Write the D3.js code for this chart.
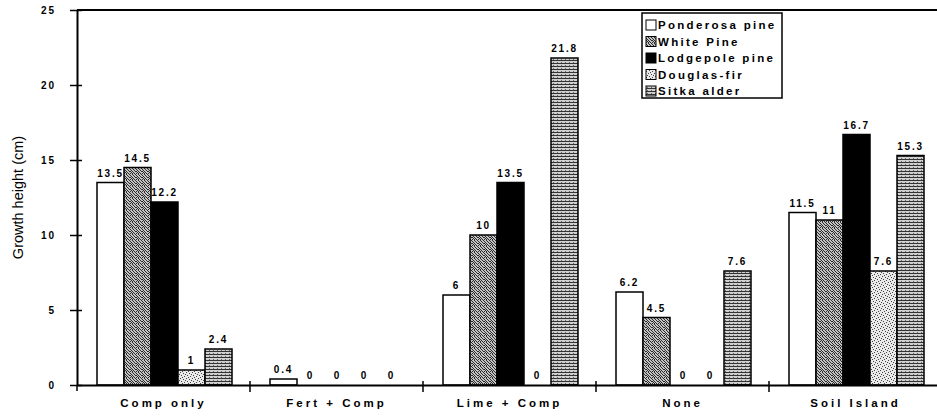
<!DOCTYPE html>
<html><head><meta charset="utf-8">
<script src="https://cdn.jsdelivr.net/npm/d3@7"></script>
<style>
body{margin:0;background:#fff;}
svg{display:block;font-family:"Liberation Sans",Arial,sans-serif;}
</style></head>
<body><div id="chart"></div>
<script>
const categories = ["Comp only","Fert + Comp","Lime + Comp","None","Soil Island"];
const seriesNames = ["Ponderosa pine","White Pine","Lodgepole pine","Douglas-fir","Sitka alder"];
const ponderosa = [13.5, 0.4, 6, 6.2, 11.5];
const whitePine = [14.5, 0, 10, 4.5, 11];
const lodgepole = [12.2, 0, 13.5, 0, 16.7];
const douglas = [1, 0, 0, 0, 7.6];
const sitka = [2.4, 0, 21.8, 7.6, 15.3];
const yTicks = [0,5,10,15,20,25];
const values = [ponderosa, whitePine, lodgepole, douglas, sitka];

const W = 937, H = 419;
const m = {left:77, top:10, right:-5, bottom:34};
const svg = d3.select("#chart").append("svg").attr("width",W).attr("height",H);
const defs = svg.append("defs");

// patterns
const p1 = defs.append("pattern").attr("id","pWhite").attr("width",6).attr("height",6).attr("patternUnits","userSpaceOnUse");
p1.append("rect").attr("width",6).attr("height",6).attr("fill","#c4c4c4");
[[0,0],[3,0],[1,1],[4,1],[5,2],[2,2],[0,3],[3,3],[1,4],[5,4],[2,5],[4,5],[4,3],[0,5]]
  .forEach(d=>p1.append("rect").attr("x",d[0]).attr("y",d[1]).attr("width",1).attr("height",1).attr("fill","#2a2a2a"));
const p2 = defs.append("pattern").attr("id","pDoug").attr("width",6).attr("height",6).attr("patternUnits","userSpaceOnUse");
p2.append("rect").attr("width",6).attr("height",6).attr("fill","#eaeaea");
[[0,0],[3,1],[1,3],[4,4],[5,2],[2,5]]
  .forEach(d=>p2.append("rect").attr("x",d[0]).attr("y",d[1]).attr("width",1).attr("height",1).attr("fill","#444"));
const p3 = defs.append("pattern").attr("id","pSitka").attr("width",4).attr("height",3).attr("patternUnits","userSpaceOnUse");
p3.append("rect").attr("width",4).attr("height",3).attr("fill","#d0d0d0");
p3.append("rect").attr("x",0).attr("y",0).attr("width",4).attr("height",1).attr("fill","#333");
p3.append("rect").attr("x",1).attr("y",2).attr("width",1).attr("height",1).attr("fill","#666");
const fills = ["#fff","url(#pWhite)","#000","url(#pDoug)","url(#pSitka)"];

const x0 = d3.scaleBand().domain(categories).range([m.left, W - m.right]).paddingInner(0).paddingOuter(0);
const x1 = d3.scaleBand().domain(d3.range(5)).range([20, x0.bandwidth()-18]).padding(0);
const y = d3.scaleLinear().domain([0,25]).range([H - m.bottom, m.top]);

// bars
categories.forEach((c,ci)=>{
  const g = svg.append("g");
  values.forEach((s,si)=>{
    const v = s[ci];
    const bx = x0(c)+x1(si);
    if (v>0) {
      g.append("rect").attr("x",bx).attr("y",y(v)).attr("width",x1.bandwidth()).attr("height",y(0)-y(v))
        .attr("fill",fills[si]).attr("stroke","#000").attr("stroke-width",1.5);
    }
    g.append("text").attr("x",bx+x1.bandwidth()/2).attr("y",y(v)-6).attr("text-anchor","middle")
      .attr("font-size",10).attr("font-weight","bold").attr("letter-spacing",1.8).text(v);
  });
});

// top border
svg.append("line").attr("x1",m.left).attr("x2",W).attr("y1",y(25)).attr("y2",y(25)).attr("stroke","#000").attr("stroke-width",2);

// y axis
const ya = svg.append("g").attr("transform",`translate(${m.left},0)`)
  .call(d3.axisLeft(y).tickValues(yTicks).tickSizeInner(7).tickSizeOuter(0).tickPadding(14));
ya.select(".domain").attr("stroke-width",2);
ya.selectAll(".tick line").attr("x2",5).attr("x1",-7).attr("stroke-width",1.5);
ya.selectAll("text").attr("font-size",10).attr("font-weight","bold").attr("letter-spacing",2)
  .attr("font-family","Liberation Sans, Arial, sans-serif").attr("fill","#000");

// x axis
const xa = svg.append("g").attr("transform",`translate(0,${y(0)})`)
  .call(d3.axisBottom(x0).tickSize(0).tickPadding(14));
xa.select(".domain").attr("stroke-width",2);
xa.selectAll("text").attr("font-size",11.5).attr("font-weight","bold").attr("letter-spacing",3)
  .attr("font-family","Liberation Sans, Arial, sans-serif").attr("fill","#000");
// group boundary ticks
svg.append("g").selectAll("line").data(categories.slice(1)).join("line")
  .attr("x1",d=>x0(d)).attr("x2",d=>x0(d)).attr("y1",y(0)-4).attr("y2",y(0)+7)
  .attr("stroke","#000").attr("stroke-width",1.5);
svg.append("line").attr("x1",m.left).attr("x2",m.left).attr("y1",y(0)).attr("y2",y(0)+6).attr("stroke","#000").attr("stroke-width",1.5);

// y title
svg.append("text").attr("transform",`translate(23,${(y(0)+y(25))/2}) rotate(-90)`)
  .attr("text-anchor","middle").attr("font-size",14.5).text("Growth height (cm)");

// legend
const lg = svg.append("g").attr("transform","translate(642,13)");
lg.append("rect").attr("width",140).attr("height",85).attr("fill","#fff").attr("stroke","#000").attr("stroke-width",1.5);
seriesNames.forEach((n,i)=>{
  const ly = 12 + i*16.5;
  lg.append("rect").attr("x",4).attr("y",ly-5).attr("width",10).attr("height",10)
    .attr("fill",fills[i]).attr("stroke","#000").attr("stroke-width",1);
  lg.append("text").attr("x",16).attr("y",ly+4).attr("font-size",11.5).attr("font-weight","bold")
    .attr("letter-spacing",2.3).text(n);
});
</script></body></html>
